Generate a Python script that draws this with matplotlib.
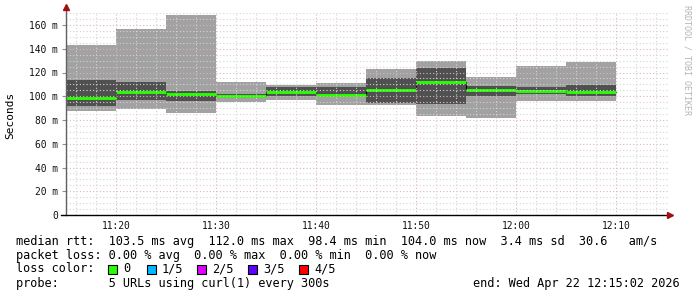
import numpy as np
import matplotlib
matplotlib.use("Agg")
import matplotlib.pyplot as plt
from matplotlib.patches import Rectangle

# 5 minute steps, 11:15 .. 12:10
bar_start = ["11:15", "11:20", "11:25", "11:30", "11:35", "11:40",
             "11:45", "11:50", "11:55", "12:00", "12:05"]
median_ms = [98.4, 103.2, 101.5, 100.4, 103.2, 101.4, 105.0, 112.0, 105.3, 104.1, 104.0]
max_ms = [143.2, 156.6, 168.4, 111.7, 109.8, 110.9, 123.0, 129.7, 116.2, 125.5, 128.8]
min_ms = [88.0, 89.1, 85.9, 95.4, 96.8, 92.9, 92.6, 83.4, 82.0, 96.0, 96.3]
inner_hi = [113.7, 111.7, 104.4, 101.6, 108.1, 107.5, 115.4, 124.0, 108.6, 107.5, 109.5]
inner_lo = [91.8, 96.8, 96.0, 99.3, 99.8, 99.8, 94.6, 93.5, 100.5, 102.0, 100.5]

tick_times = ["11:20", "11:30", "11:40", "11:50", "12:00", "12:10"]
y_ticks = [0, 20, 40, 60, 80, 100, 120, 140, 160]
y_labels = ["0", "20 m", "40 m", "60 m", "80 m", "100 m", "120 m", "140 m", "160 m"]

loss_names = ["0", "1/5", "2/5", "3/5", "4/5"]
loss_colors = ["#26ff00", "#00b8ff", "#dd00ff", "#5e00ff", "#ff0000"]

legend_lines = [
    "median rtt:  103.5 ms avg  112.0 ms max  98.4 ms min  104.0 ms now  3.4 ms sd  30.6   am/s",
    "packet loss: 0.00 % avg  0.00 % max  0.00 % min  0.00 % now",
    "loss color:",
    "probe:       5 URLs using curl(1) every 300s",
]
end_text = "end: Wed Apr 22 12:15:02 2026"


def to_min(s):
    h, m = s.split(":")
    return (int(h) - 11) * 60 + int(m) - 15


mono = "DejaVu Sans Mono"
W, H = 697, 297
fig = plt.figure(figsize=(W / 100, H / 100), dpi=100)
fig.patch.set_facecolor("white")

x0, x1, y_top, y_bot = 66, 668, 13, 215
ax = fig.add_axes([x0 / W, (H - y_bot) / H, (x1 - x0) / W, (y_bot - y_top) / H])
ax.set_xlim(0, (x1 - x0) / 10.0)
ax.set_ylim(0, (y_bot - y_top) / 1.1875)

starts = np.array([to_min(s) for s in bar_start])
width = 5

ax.bar(starts, np.array(max_ms) - np.array(min_ms), width=width, bottom=min_ms,
       align="edge", color="#a2a2a2", linewidth=0, zorder=1)
ax.bar(starts, np.array(inner_hi) - np.array(inner_lo), width=width, bottom=inner_lo,
       align="edge", color="#505050", linewidth=0, zorder=1.2)

# black step under the green median
xs = np.append(starts, starts[-1] + width)
ax.step(xs, np.append(median_ms, median_ms[-1]), where="post", color="black", lw=0.8, zorder=1.5)
ax.hlines(median_ms, starts, starts + width, colors="#26ff00", lw=2.1, zorder=1.8)

# grid
for v in np.arange(5, 171, 5):
    major = v % 20 == 0
    ax.axhline(v, color="#e0b4b4" if major else "#d4d4d4", lw=0.8,
               ls=(0, (1, 2)), zorder=3)
for m in np.arange(1, 61, 2):
    major = (m - 5) % 10 == 0
    ax.axvline(m, color="#e0b4b4" if major else "#d4d4d4", lw=0.8,
               ls=(0, (1, 2)), zorder=3)

for sp in ax.spines.values():
    sp.set_visible(False)
ax.set_xticks([to_min(t) for t in tick_times])
ax.set_xticklabels(tick_times, fontfamily=mono, fontsize=6.9, color="#101010")
ax.set_yticks(y_ticks)
ax.set_yticklabels(y_labels, fontfamily=mono, fontsize=6.9, color="#101010")
ax.tick_params(axis="x", length=0, pad=4)
ax.tick_params(axis="y", length=3, width=0.8, color="#909090", pad=3)

# axis lines with arrows
ax.plot([0, 0], [0, 1.025], transform=ax.transAxes, color="#606060", lw=1.0, clip_on=False, zorder=4)
ax.plot([-0.008, 1.002], [0, 0], transform=ax.transAxes, color="black", lw=1.0, clip_on=False, zorder=4)
ax.plot([0], [1.03], marker="^", ms=4, color="#a01010", transform=ax.transAxes, clip_on=False, zorder=5)
ax.plot([1.004], [0], marker=">", ms=4, color="#a01010", transform=ax.transAxes, clip_on=False, zorder=5)

fig.text(10 / W, 1 - 115 / H, "Seconds", rotation=90, ha="center", va="center",
         fontfamily=mono, fontsize=8, color="black")
fig.text(687 / W, 1 - 5 / H, "RRDTOOL / TOBI OETIKER", rotation=-90, ha="center", va="top",
         fontfamily=mono, fontsize=6, color="#b4b4b4")

rows = [241, 255, 269, 283]
fs = 8.55
for txt, yy in zip(legend_lines, rows):
    fig.text(16 / W, 1 - yy / H, txt, ha="left", va="center", fontfamily=mono,
             fontsize=fs, color="black")
fig.text(680 / W, 1 - rows[3] / H, end_text, ha="right", va="center", fontfamily=mono,
         fontsize=fs, color="black")

sq_x = [108, 147, 197, 248, 299]
for name, col, sx in zip(loss_names, loss_colors, sq_x):
    fig.patches.append(Rectangle((sx / W, 1 - (rows[2] + 4.5) / H), 9 / W, 9 / H,
                                 transform=fig.transFigure, facecolor=col,
                                 edgecolor="black", lw=0.8))
    fig.text((sx + 15) / W, 1 - rows[2] / H, name, ha="left", va="center",
             fontfamily=mono, fontsize=fs, color="black")

fig.savefig("out.png", dpi=100)
